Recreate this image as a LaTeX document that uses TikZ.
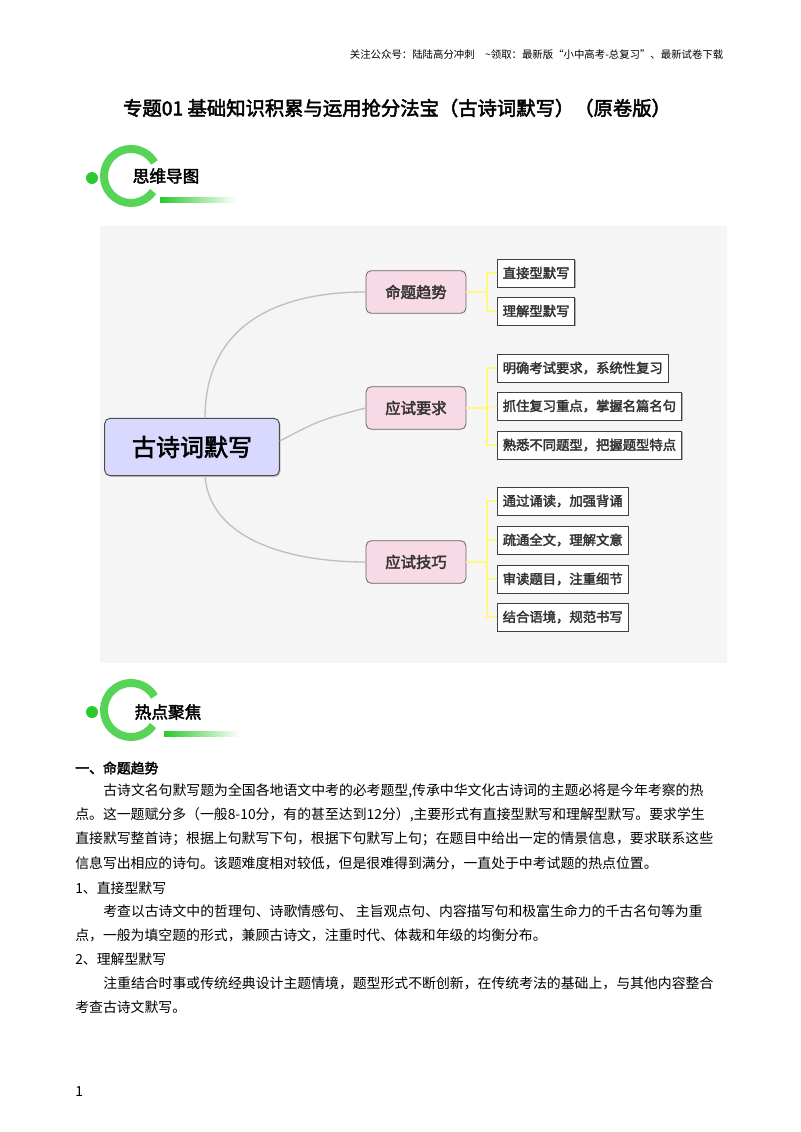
\documentclass[tikz,border=0pt]{standalone}
\usepackage{fontspec}
\setmainfont{Noto Sans CJK SC}
\newfontfamily\cjkb[FakeBold=2.5]{Noto Sans CJK SC}
\usetikzlibrary{shadows}
\definecolor{gbright}{HTML}{2DC82D}
\definecolor{pinkf}{HTML}{F8D9E6}
\tikzset{
  leaf/.style={draw=black!75,fill=white,line width=0.6pt,minimum height=21pt,anchor=west,inner sep=4pt,font=\fontsize{10}{12}\selectfont\cjkb,text=black!80,drop shadow={shadow xshift=1pt,shadow yshift=-1pt,opacity=0.6}},
  mid/.style={draw=black!60,fill=pinkf,rounded corners=4pt,minimum width=75pt,minimum height=32pt,line width=0.6pt,font=\fontsize{11.5}{13}\selectfont\cjkb,text=black!80},
  para/.style={anchor=west,inner sep=0pt,font=\fontsize{10.4}{12}\selectfont},
  br/.style={draw=yellow!50!white,line width=0.8pt},
  trunk/.style={draw=black!25,line width=1pt},
}
\begin{document}
\begin{tikzpicture}[x=0.75pt,y=-0.75pt]
\useasboundingbox (0,0) rectangle (800,1132);
\node[anchor=east,font=\fontsize{7.8}{9}\selectfont] (hdr) at (728,55) {关注公众号：陆陆高分冲刺\quad\textasciitilde 领取：最新版“小中高考-总复习”、最新试卷下载};
\node[font=\fontsize{14.5}{16}\selectfont\cjkb] (title) at (397,108) {专题01\ 基础知识积累与运用抢分法宝（古诗词默写）（原卷版）};
% badge 1
\fill[gbright] (92,178) circle (6);
\draw[gbright!80,line width=6pt] (131,176) ++(35:27) arc (35:330:27);
\shade[left color=gbright,right color=white] (160,197) rectangle (236,202);
\node[anchor=west,font=\fontsize{12.5}{14}\selectfont\cjkb] (b1) at (128,176) {思维导图};
% mind map bg
\fill[black!4] (100,226) rectangle (727,663);
\node[draw=black!70,fill=blue!15!white,rounded corners=4pt,minimum width=131pt,minimum height=43pt,line width=0.7pt,font=\fontsize{18}{20}\selectfont\cjkb,drop shadow={shadow xshift=1pt,shadow yshift=-1pt,opacity=0.4}] (c) at (192,447) {古诗词默写};
\node[mid] (m1) at (416,292) {命题趋势};
\node[mid] (m2) at (416,408) {应试要求};
\node[mid] (m3) at (416,562) {应试技巧};
\coordinate (ct) at (205,418);
\coordinate (cb) at (205,476);
\draw[trunk] (ct) .. controls (205,330) and (270,292) .. (m1.west);
\draw[trunk] (c.east) ++(0,-6) .. controls (320,420) .. (m2.west);
\draw[trunk] (cb) .. controls (210,540) and (290,562) .. (m3.west);
\node[leaf] (l1) at (497,273) {直接型默写};
\node[leaf] (l2) at (497,311) {理解型默写};
\node[leaf] (l3) at (497,368) {明确考试要求，系统性复习};
\node[leaf] (l4) at (497,406) {抓住复习重点，掌握名篇名句};
\node[leaf] (l5) at (497,445) {熟悉不同题型，把握题型特点};
\node[leaf] (l6) at (497,501) {通过诵读，加强背诵};
\node[leaf] (l7) at (497,540) {疏通全文，理解文意};
\node[leaf] (l8) at (497,579) {审读题目，注重细节};
\node[leaf] (l9) at (497,617) {结合语境，规范书写};
\draw[br] (m1.east) -- (487,292);
\draw[br] (l1.west) -| (487,292) |- (l2.west);
\draw[br] (m2.east) -- (487,408);
\draw[br] (l3.west) -| (487,408) |- (l5.west);
\draw[br] (487,408) -- (l4.west);
\draw[br] (m3.east) -- (487,562);
\draw[br] (l6.west) -| (487,562) |- (l9.west);
\draw[br] (l7.west) -| (487,560);
\draw[br] (l8.west) -| (487,564);
% badge 2
\fill[gbright] (92,712) circle (6);
\draw[gbright!80,line width=6pt] (131,710) ++(35:27) arc (35:330:27);
\shade[left color=gbright,right color=white] (164,731) rectangle (240,736);
\node[anchor=west,font=\fontsize{12.5}{14}\selectfont\cjkb] (b2) at (130,712) {热点聚焦};
% text
\node[para,font=\fontsize{10.4}{12}\selectfont\cjkb] (h1) at (75,768) {一、命题趋势};
\node[para] (p1) at (103,791) {古诗文名句默写题为全国各地语文中考的必考题型,传承中华文化古诗词的主题必将是今年考察的热};
\node[para] (p2) at (75,815) {点。这一题赋分多（一般8-10分，有的甚至达到12分）,主要形式有直接型默写和理解型默写。要求学生};
\node[para] (p3) at (75,839) {直接默写整首诗；根据上句默写下句，根据下句默写上句；在题目中给出一定的情景信息，要求联系这些};
\node[para] (p4) at (75,863) {信息写出相应的诗句。该题难度相对较低，但是很难得到满分，一直处于中考试题的热点位置。};
\node[para] (h2) at (75,888) {1、直接型默写};
\node[para] (p5) at (103,911) {考查以古诗文中的哲理句、诗歌情感句、 主旨观点句、内容描写句和极富生命力的千古名句等为重};
\node[para] (p6) at (75,935) {点，一般为填空题的形式，兼顾古诗文，注重时代、体裁和年级的均衡分布。};
\node[para] (h3) at (75,959) {2、理解型默写};
\node[para] (p7) at (103,983) {注重结合时事或传统经典设计主题情境，题型形式不断创新，在传统考法的基础上，与其他内容整合};
\node[para] (p8) at (75,1007) {考查古诗文默写。};
\node[para] (pg) at (75,1092) {1};
\end{tikzpicture}
\end{document}
